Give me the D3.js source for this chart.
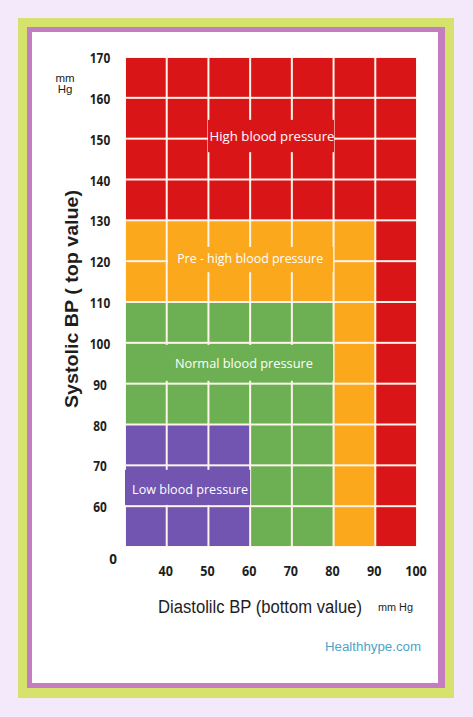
<!DOCTYPE html>
<html><head><meta charset="utf-8">
<script src="https://cdn.jsdelivr.net/npm/d3@7"></script>
<style>body{margin:0;background:#f4e8fb;} svg{display:block}</style>
</head><body><svg id="c" width="473" height="717"></svg>
<script>
// ---- data ----
const categories = ["High blood pressure", "Pre - high blood pressure", "Normal blood pressure", "Low blood pressure"];
const categoryKeys = ["H", "P", "N", "L"];
const categoryColors = ["#da1518", "#fba81d", "#6cb053", "#7155b0"];
const diastolicEdges = [30, 40, 50, 60, 70, 80, 90, 100];
const systolicEdges = [170, 160, 150, 140, 130, 120, 110, 100, 90, 80, 70, 60, 50];
const diastolicTicks = [40, 50, 60, 70, 80, 90, 100];
const systolicTicks = [170, 160, 150, 140, 130, 120, 110, 100, 90, 80, 70, 60];
// zone of each cell, rows from top (160-170) to bottom (50-60), columns 30-40 ... 90-100
const zoneRows = [
  "HHHHHHH",
  "HHHHHHH",
  "HHHHHHH",
  "HHHHHHH",
  "PPPPPPH",
  "PPPPPPH",
  "NNNNNPH",
  "NNNNNPH",
  "NNNNNPH",
  "LLLNNPH",
  "LLLNNPH",
  "LLLNNPH"
];

// ---- drawing ----
const svg = d3.select("#c");
const x = d3.scaleLinear().domain([30, 100]).range([125, 417]);
const y = d3.scaleLinear().domain([50, 170]).range([547, 57]);

// frame
svg.append("rect").attr("x", 18).attr("y", 18).attr("width", 436).attr("height", 680).attr("fill", "#d5e26c");
svg.append("rect").attr("x", 27).attr("y", 27).attr("width", 418).attr("height", 661).attr("fill", "#c57dc1");
svg.append("rect").attr("x", 32).attr("y", 32).attr("width", 406).attr("height", 651).attr("fill", "#ffffff");

// grid background (gap colour)
svg.append("rect").attr("x", x(30)).attr("y", y(170)).attr("width", x(100) - x(30)).attr("height", y(50) - y(170)).attr("fill", "#fdf5ea");

const cells = [];
zoneRows.forEach((row, r) => {
  row.split("").forEach((k, c) => {
    cells.push({ d0: diastolicEdges[c], d1: diastolicEdges[c + 1], s1: systolicEdges[r], s0: systolicEdges[r + 1], k });
  });
});
const colorOf = d3.scaleOrdinal().domain(categoryKeys).range(categoryColors);
svg.append("g").selectAll("rect").data(cells).join("rect")
  .attr("x", d => x(d.d0) + 1)
  .attr("y", d => y(d.s1) + 1)
  .attr("width", d => x(d.d1) - x(d.d0) - 2)
  .attr("height", d => y(d.s0) - y(d.s1) - 2)
  .attr("fill", d => colorOf(d.k));

// zone labels with covering boxes (layout in data coordinates)
const labelLayout = [
  { k: "H", cx: 65.25, cy: 150.6, b: [49.9, 80.1, 154.6, 146.7], w: 125 },
  { k: "P", cx: 60.0, cy: 120.8, b: [40.3, 79.9, 123.5, 117.3], w: 146 },
  { k: "N", cx: 58.5, cy: 95.1, b: [30.7, 79.9, 99.5, 90.7], w: 138 },
  { k: "L", cx: 45.6, cy: 64.2, b: [30.0, 60.0, 68.9, 60.3], w: 116 }
];
const lg = svg.append("g");
labelLayout.forEach(L => {
  const i = categoryKeys.indexOf(L.k);
  lg.append("rect")
    .attr("x", x(L.b[0])).attr("y", y(L.b[2]))
    .attr("width", x(L.b[1]) - x(L.b[0])).attr("height", y(L.b[3]) - y(L.b[2]))
    .attr("fill", categoryColors[i]);
  lg.append("text")
    .attr("x", x(L.cx)).attr("y", y(L.cy))
    .attr("text-anchor", "middle").attr("dominant-baseline", "central")
    .attr("font-family", "'Open Sans', sans-serif").attr("font-weight", 400)
    .attr("font-size", 13.5).attr("fill", "#ffffff")
    .attr("textLength", L.w).attr("lengthAdjust", "spacingAndGlyphs")
    .text(categories[i]);
});

// y tick labels
svg.append("g").selectAll("text").data(systolicTicks).join("text")
  .attr("x", 100).attr("y", d => y(d) + 1)
  .attr("text-anchor", "middle").attr("dominant-baseline", "central")
  .attr("font-family", "'Open Sans', sans-serif").attr("font-weight", 700)
  .attr("font-size", 13.5).attr("fill", "#1e1e1e")
  .attr("textLength", d => String(d).length * 6.8).attr("lengthAdjust", "spacingAndGlyphs")
  .text(d => d);
svg.append("text").attr("x", 113).attr("y", 559)
  .attr("text-anchor", "middle").attr("dominant-baseline", "central")
  .attr("font-family", "'Open Sans', sans-serif").attr("font-weight", 700)
  .attr("font-size", 13.5).attr("fill", "#1e1e1e").text("0");

// x tick labels
svg.append("g").selectAll("text").data(diastolicTicks).join("text")
  .attr("x", d => x(d) - 1).attr("y", 571)
  .attr("text-anchor", "middle").attr("dominant-baseline", "central")
  .attr("font-family", "'Open Sans', sans-serif").attr("font-weight", 700)
  .attr("font-size", 13.5).attr("fill", "#1e1e1e")
  .attr("textLength", d => String(d).length * 7.2).attr("lengthAdjust", "spacingAndGlyphs")
  .text(d => d);

// units top-left
svg.append("text").attr("x", 65).attr("y", 82).attr("text-anchor", "middle")
  .attr("font-family", "'Liberation Sans', Arial, sans-serif").attr("font-size", 11.5).attr("fill", "#222").text("mm");
svg.append("text").attr("x", 65).attr("y", 93).attr("text-anchor", "middle")
  .attr("font-family", "'Liberation Sans', Arial, sans-serif").attr("font-size", 11.5).attr("fill", "#222").text("Hg");

// y axis title
svg.append("text").attr("transform", "translate(78,299) rotate(-90)")
  .attr("text-anchor", "middle")
  .attr("font-family", "'Liberation Sans', Arial, sans-serif").attr("font-weight", 700)
  .attr("font-size", 18.5).attr("fill", "#1e1e1e")
  .attr("textLength", 218).attr("lengthAdjust", "spacingAndGlyphs")
  .text("Systolic BP ( top value)");

// x axis title
svg.append("text").attr("x", 158).attr("y", 613)
  .attr("font-family", "'Liberation Sans', Arial, sans-serif")
  .attr("font-size", 18).attr("fill", "#1e1e1e")
  .attr("textLength", 204).attr("lengthAdjust", "spacingAndGlyphs")
  .text("Diastolilc BP (bottom value)");
svg.append("text").attr("x", 378).attr("y", 611)
  .attr("font-family", "'Liberation Sans', Arial, sans-serif")
  .attr("font-size", 10).attr("fill", "#1e1e1e")
  .attr("textLength", 35).attr("lengthAdjust", "spacingAndGlyphs")
  .text("mm Hg");

// source
svg.append("text").attr("x", 325).attr("y", 651)
  .attr("font-family", "'Liberation Sans', Arial, sans-serif")
  .attr("font-size", 12).attr("fill", "#4aa6c9")
  .attr("textLength", 96).attr("lengthAdjust", "spacingAndGlyphs")
  .text("Healthhype.com");
</script>
</body></html>
